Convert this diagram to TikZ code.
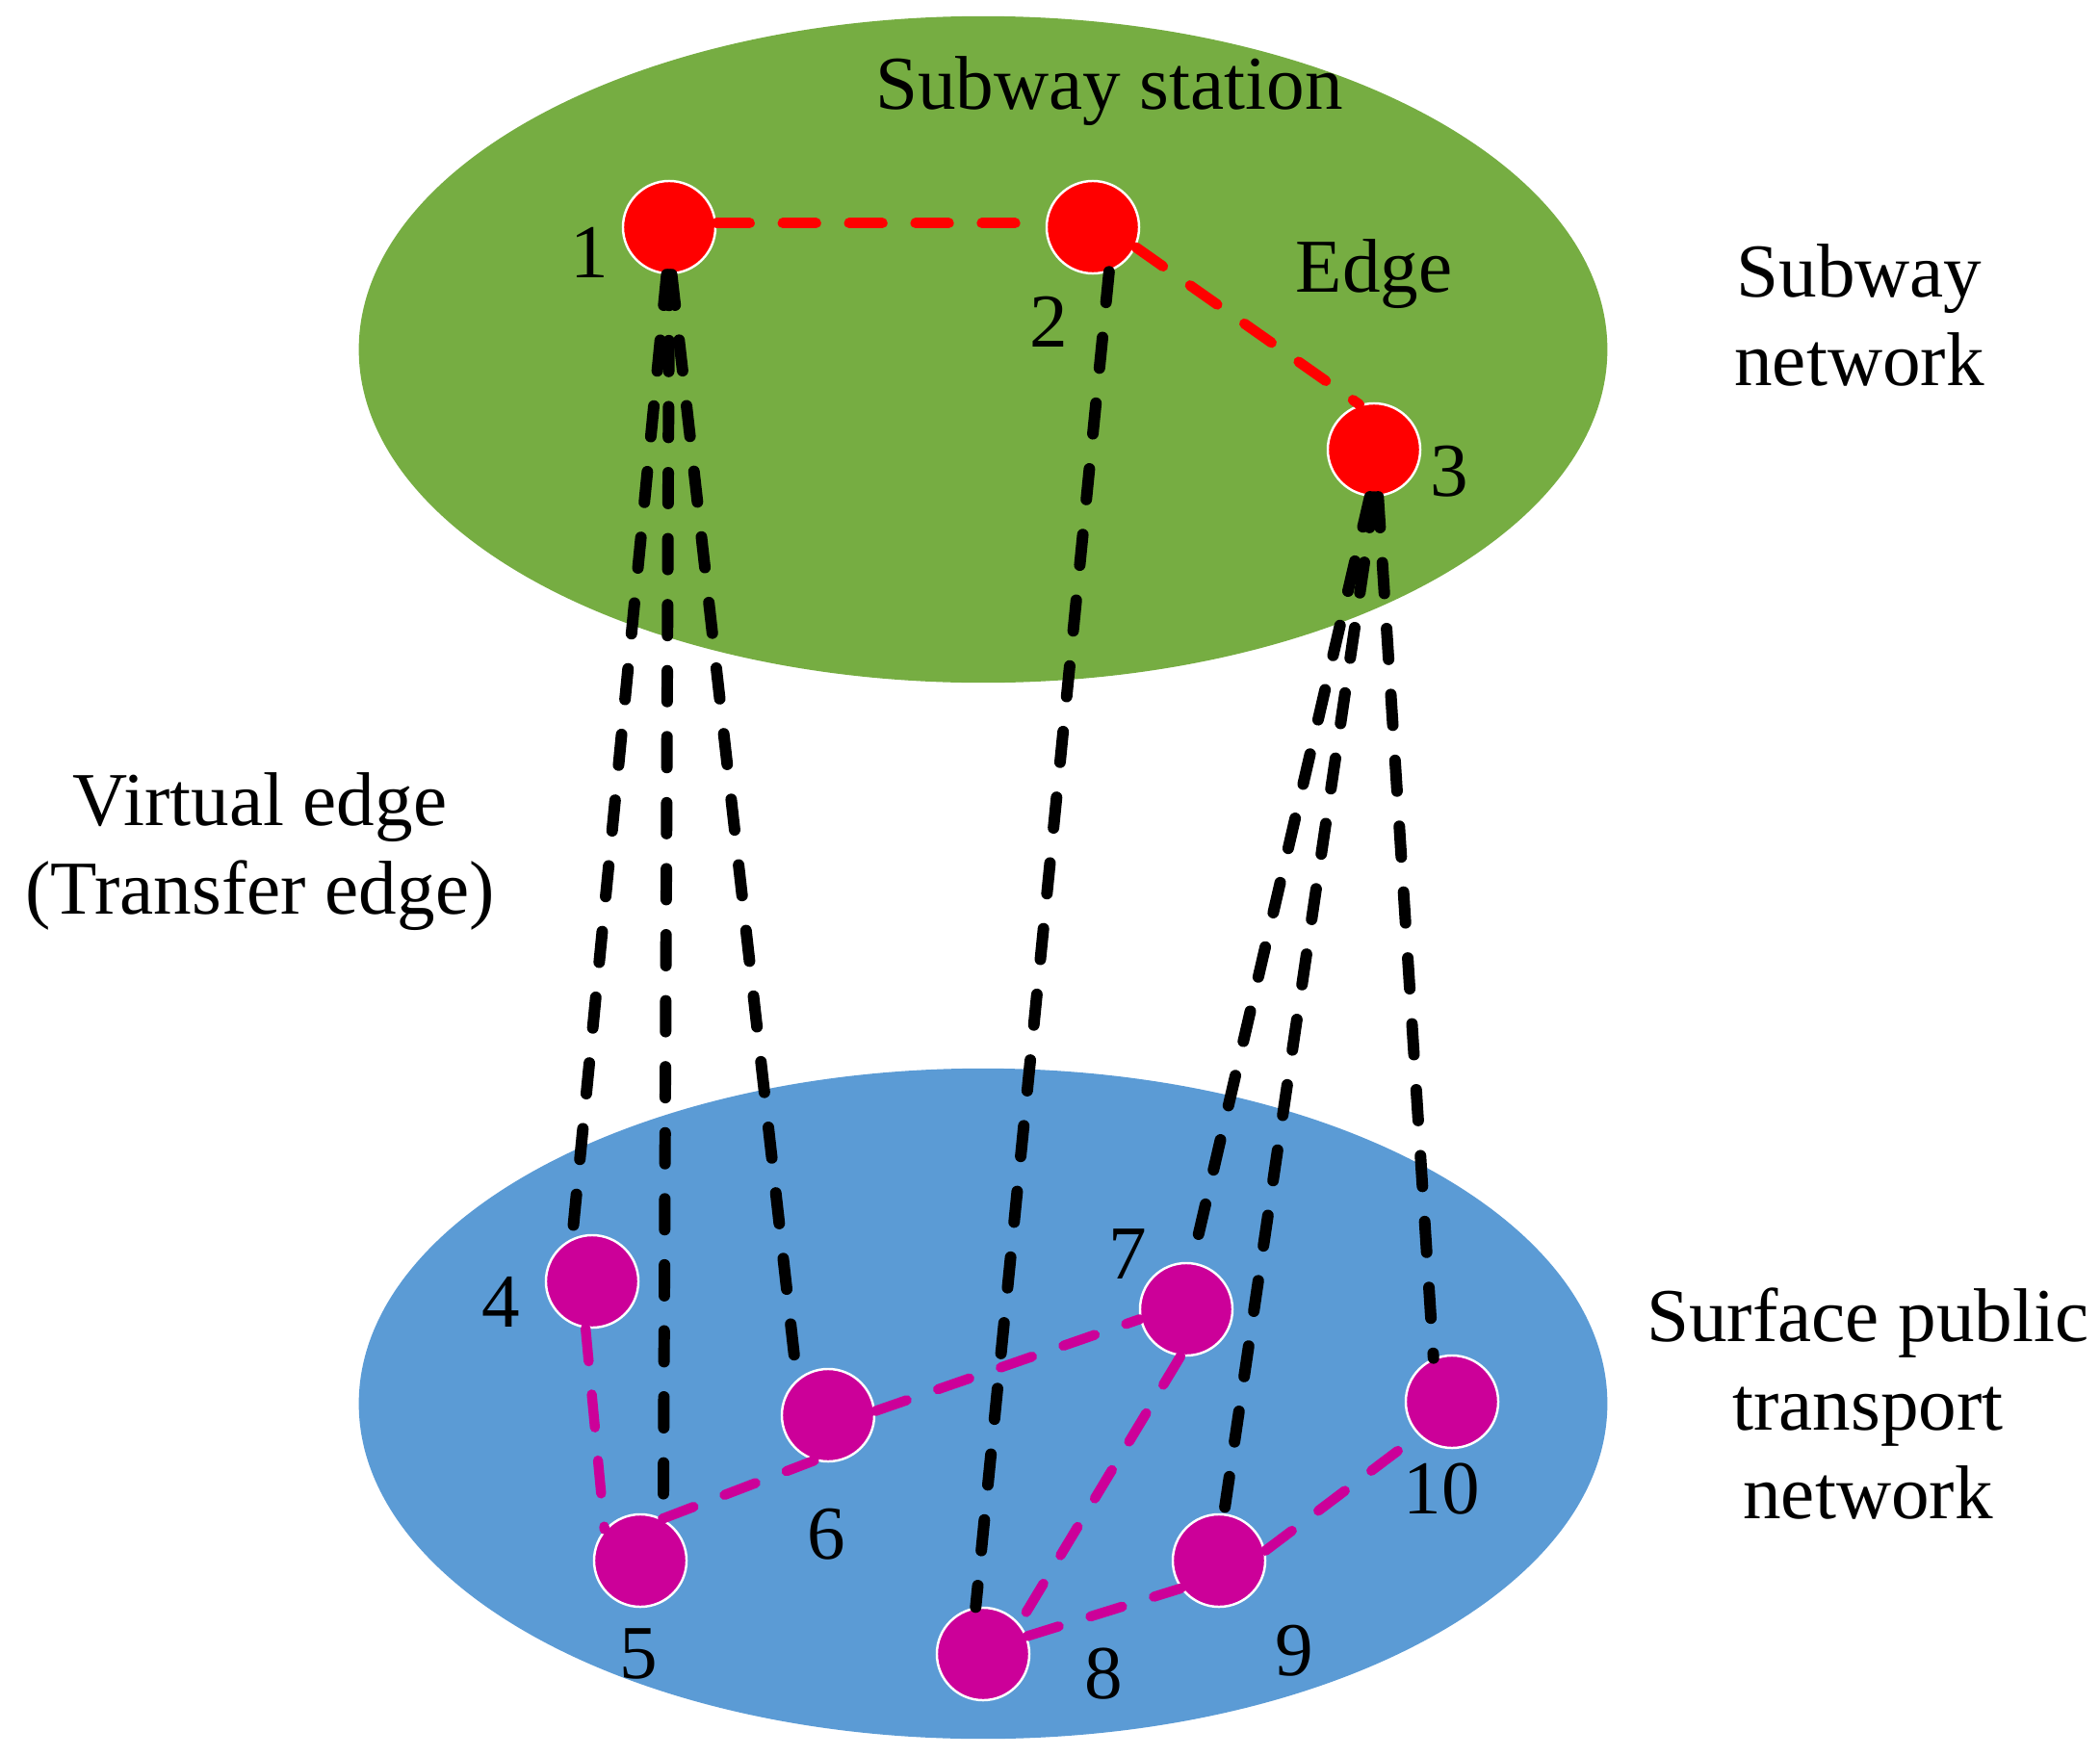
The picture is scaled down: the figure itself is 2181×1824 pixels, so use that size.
\documentclass[tikz,border=0pt]{standalone}
\usepackage{fontspec}
\setmainfont{Liberation Serif}
\definecolor{lgreen}{RGB}{118,173,66}
\definecolor{lblue}{RGB}{91,155,213}
\definecolor{magent}{RGB}{204,0,153}
\tikzset{
  sub/.style={circle,fill=red,draw=white,line width=0.7pt,minimum size=0.96cm,inner sep=0pt},
  sur/.style={circle,fill=magent,draw=white,line width=0.7pt,minimum size=0.96cm,inner sep=0pt},
  lbl/.style={font=\fontsize{22.5}{26.2}\selectfont,align=center,inner sep=0pt},
  virt/.style={draw=black,line width=3.4pt,line cap=round,dash pattern=on 9.1pt off 10.4pt},
  redge/.style={draw=red,line width=3.05pt,line cap=round,dash pattern=on 9.8pt off 9.8pt},
  medge/.style={draw=magent,line width=2.95pt,line cap=round,dash pattern=on 9.8pt off 9.8pt},
}
\begin{document}
\begin{tikzpicture}[x=0.01cm,y=-0.01cm]
\useasboundingbox (0,0) rectangle (2181,1824);
\fill[lgreen] (1021,363) ellipse [x radius=6.48cm, y radius=3.46cm];
\fill[lblue] (1021,1458) ellipse [x radius=6.48cm, y radius=3.48cm];
% nodes
\node[sub] (n1) at (695,236) {};
\node[sub] (n2) at (1135,236) {};
\node[sub] (n3) at (1427,467) {};
\node[sur] (n4) at (615,1331) {};
\node[sur] (n5) at (665,1621) {};
\node[sur] (n6) at (860,1470) {};
\node[sur] (n7) at (1232,1360) {};
\node[sur] (n8) at (1021,1718) {};
\node[sur] (n9) at (1266,1621) {};
\node[sur] (n10) at (1508,1456) {};
% subway edges
\draw[redge] (n1.5) -- (n2.175);
\draw[redge] (n2.-25) -- (n3.108);
% surface edges
\draw[medge] (n4.-98) -- (n5.139);
\draw[medge] (n5.62) -- (n6.-107);
\draw[medge] (n6.5) -- (n7.-168);
\draw[medge] (n7.-97) -- (n8.40);
\draw[medge] (n8.22) -- (n9.-144);
\draw[medge] (n9.12) -- (n10.-135);
% virtual edges
\draw[virt] (n1.-93) -- (n4.115);
\draw[virt] (n1.-90) -- (n5.61);
\draw[virt] (n1.-87) -- (n6.131);
\draw[virt] (n2.-70) -- (n8.99);
\draw[virt] (n3.-95) -- (n7.83);
\draw[virt] (n3.-90) -- (n9.84);
\draw[virt] (n3.-85) -- (n10.113);
% number labels
\node[lbl] (l1) at (612,262) {1};
\node[lbl] (l2) at (1089,334) {2};
\node[lbl] (l3) at (1505,490) {3};
\node[lbl] (l4) at (520,1352) {4};
\node[lbl] (l5) at (663,1718) {5};
\node[lbl] (l6) at (858,1594) {6};
\node[lbl] (l7) at (1171,1303) {7};
\node[lbl] (l8) at (1146,1739) {8};
\node[lbl] (l9) at (1344,1715) {9};
\node[lbl] (l10) at (1497,1547) {10};
% text labels
\node[lbl] (tstation) at (1152,95) {Subway station};
\node[lbl] (tedge) at (1427,285) {Edge};
\node[lbl] (tsubnet) at (1931,327) {Subway\\network};
\node[lbl] (tvirt) at (270,885) {Virtual edge\\(Transfer edge)};
\node[lbl] (tsurf) at (1940,1458) {Surface public\\transport\\network};
\end{tikzpicture}
\end{document}
